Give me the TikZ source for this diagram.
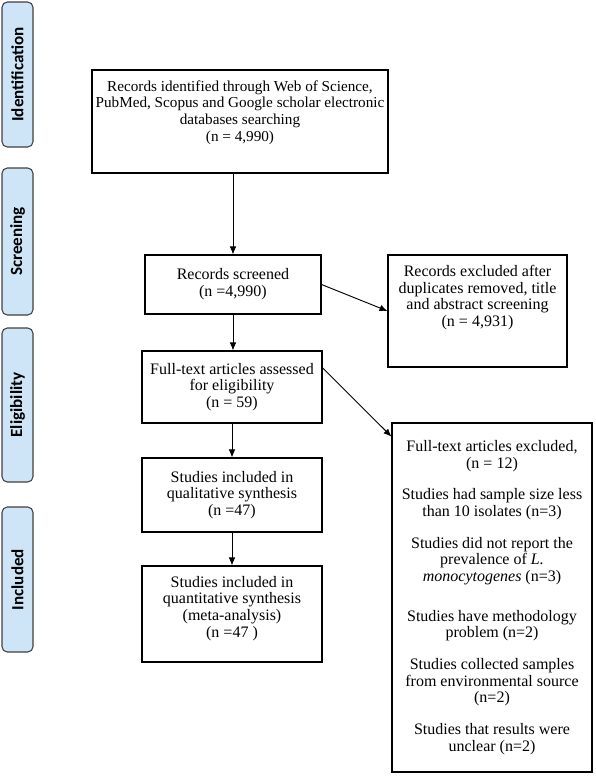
\documentclass[tikz,border=0pt]{standalone}
\usepackage{fontspec}
\setmainfont{Liberation Serif}
\newfontfamily\stagefont{Carlito}
\usetikzlibrary{arrows.meta}
\definecolor{stageblue}{RGB}{206,228,247}

\begin{document}
\begin{tikzpicture}[x=0.75pt,y=-0.75pt,
    stage/.style={draw=black!75, fill=stageblue, rounded corners=4pt, line width=0.8pt,
      rotate=90, inner sep=0pt, minimum height=23.25pt,
      font=\stagefont\bfseries\fontsize{12.8}{14}\selectfont},
    box/.style={draw, line width=0.8pt, inner sep=0pt},
    txt/.style={align=center, inner sep=0pt, font=\fontsize{12}{12.6}\selectfont},
    arr/.style={-{Latex[length=6pt,width=5pt]}, line width=0.7pt}]
  \useasboundingbox (0,0) rectangle (596,776);

  % stage labels on the left
  \node[stage, minimum width=108.75pt] (ident) at (17.5,74.5) {Identification};
  \node[stage, minimum width=110.25pt] (screen) at (17.5,241.5) {Screening};
  \node[stage, minimum width=115.5pt] (elig) at (17.5,405) {Eligibility};
  \node[stage, minimum width=108.75pt] (incl) at (17.5,579.5) {Included};

  % main column
  \node[box, minimum width=222pt, minimum height=77.25pt] (records) at (240,121.5) {};
  \node[txt, font=\fontsize{11.4}{12.4}\selectfont] (recordstext) at (240,112.5) {Records identified through Web of Science,\\PubMed, Scopus and Google scholar electronic\\databases searching\\(n = 4,990)};

  \node[box, txt, minimum width=132pt, minimum height=44.25pt] (screened) at (233,284.5) {Records screened\\(n =4,990)};

  \node[box, txt, minimum width=135pt, minimum height=54pt] (fulltext) at (232,387) {Full-text articles assessed\\for eligibility\\(n = 59)};

  \node[box, txt, minimum width=135pt, minimum height=55.5pt] (quali) at (232,495) {Studies included in\\qualitative synthesis\\(n =47)};

  \node[box, minimum width=135pt, minimum height=72pt] (quanti) at (232,614) {};
  \node[txt] (quantitext) at (232,608.5) {Studies included in\\quantitative synthesis\\(meta-analysis)\\(n =47 )};

  % excluded boxes
  \node[box, minimum width=134.25pt, minimum height=84pt] (excl1) at (477.5,311) {};
  \node[txt] (excl1text) at (477.5,297.5) {Records excluded after\\duplicates removed, title\\and abstract screening\\(n = 4,931)};

  \node[box, txt, minimum width=150pt, minimum height=261.75pt] (excl2) at (492,597.5) {Full-text articles excluded,\\(n = 12)\\[11pt]
    Studies had sample size less\\than 10 isolates (n=3)\\[11pt]
    Studies did not report the\\prevalence of \textit{L.}\\\textit{monocytogenes} (n=3)\\[17pt]
    Studies have methodology\\problem (n=2)\\[11pt]
    Studies collected samples\\from environmental source\\(n=2)\\[11pt]
    Studies that results were\\unclear (n=2)};

  % arrows
  \draw[arr] (records.south -| screened.north) -- (screened.north);
  \draw[arr] (screened.south) -- (screened.south |- fulltext.north);
  \draw[arr] (fulltext.south) -- (quali.north);
  \draw[arr] (quali.south) -- (quanti.north);
  \draw[arr] (screened.east) -- (excl1.west);
  \draw[arr] (fulltext.12) -- (excl2.122.7);
\end{tikzpicture}
\end{document}
